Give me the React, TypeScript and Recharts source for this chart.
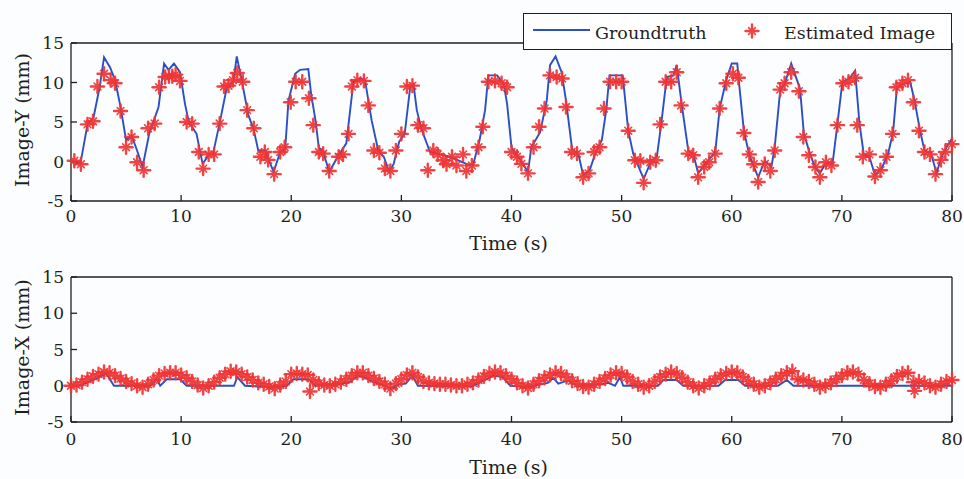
import React from 'react';
import { ComposedChart, Line, Scatter, XAxis, YAxis, Legend } from 'recharts';

// Two stacked panels: Image-Y and Image-X tracking, ground truth vs. estimate.

const FONT = '"DejaVu Serif", serif';
const BLUE = '#2b4fc4';
const RED = '#f03434';
const INK = '#1f1f1f';

const timeTicks = [0, 10, 20, 30, 40, 50, 60, 70, 80];
const valueTicks = [-5, 0, 5, 10, 15];

// [time (s), value (mm)]
const yTruth = [
    [0, 0.1], [0.85, -0.3], [1.5, 4.7], [2.05, 5.6], [2.6, 9.4], [3.0, 13.2], [3.55, 11.9],
    [4.0, 10.3], [4.5, 6.9], [5.0, 2.7], [5.5, 3.3], [6.0, 1.4], [6.5, -0.7], [7.1, 3.5],
    [7.95, 6.9], [8.45, 12.4], [8.85, 11.6], [9.35, 12.4], [9.9, 11.3], [10.35, 7.3],
    [10.7, 5.0], [11.4, 3.5], [11.95, -0.3], [12.5, 0.8], [12.9, 1.0], [13.55, 5.2],
    [14.15, 9.4], [14.75, 10.1], [15.05, 13.3], [15.5, 10.3], [16.1, 5.9], [16.6, 4.0],
    [17.0, 1.4], [17.6, 1.4], [18.4, -1.3], [19.0, 1.2], [19.45, 1.6], [19.75, 7.7],
    [20.35, 11.1], [20.8, 11.6], [21.55, 11.7], [21.8, 8.6], [22.2, 5.2], [22.5, 1.8],
    [22.9, 1.2], [23.45, -1.3], [24.3, 0.8], [25.0, 2.3], [25.65, 10.1], [26.3, 10.5],
    [26.7, 10.3], [27.3, 5.2], [27.9, 1.4], [28.4, 0.6], [28.9, -1.3], [29.3, -0.3],
    [29.8, 2.5], [30.3, 3.5], [30.8, 9.4], [31.1, 9.8], [31.4, 6.5], [31.85, 4.0],
    [32.6, 1.2], [34.4, 0.6], [35.9, -0.3], [36.5, -0.5], [37.1, 2.7], [37.6, 6.5],
    [37.9, 10.9], [38.7, 10.9], [39.3, 9.8], [39.6, 7.3], [40.0, 1.8], [40.6, 0.6],
    [41.5, -1.3], [41.8, 1.8], [42.6, 3.7], [43.2, 7.7], [43.5, 12.2], [44.0, 13.3],
    [44.55, 11.3], [44.95, 7.7], [45.5, 1.6], [46.1, 0.8], [46.5, -1.7], [47.1, -1.1],
    [47.6, 1.0], [48.2, 2.7], [48.6, 6.5], [48.9, 10.9], [50.1, 10.9], [50.6, 3.9],
    [51.05, 1.0], [52.0, -2.2], [52.7, 0.1], [53.2, 0.6], [53.6, 4.8], [54.1, 10.7],
    [54.7, 10.9], [55.0, 12.2], [55.45, 7.3], [56.05, 1.4], [56.5, 1.0], [56.95, -1.5],
    [57.6, -0.3], [58.5, 1.2], [58.9, 6.7], [59.5, 10.3], [60.0, 12.4], [60.5, 12.4],
    [60.7, 9.4], [61.1, 3.9], [61.6, 0.8], [62.4, -2.0], [63.0, 0.1], [63.6, -0.7],
    [63.9, 1.8], [64.4, 9.0], [64.8, 9.8], [65.4, 12.4], [66.2, 9.2], [66.55, 3.5],
    [67.1, 1.0], [67.55, -0.7], [68.0, -1.5], [68.55, -0.2], [69.15, -0.3], [69.6, 4.8],
    [70.05, 10.1], [70.7, 10.5], [71.2, 11.5], [71.6, 4.8], [72.0, 0.8], [72.5, 0.6],
    [73.0, -1.7], [73.6, -0.9], [74.2, 1.0], [74.65, 3.7], [75.0, 9.4], [75.55, 9.8],
    [76.2, 10.1], [76.6, 7.7], [77.1, 3.9], [77.5, 1.4], [78.1, 1.0], [78.6, -1.5],
    [79.0, 0.4], [79.5, 1.8], [80.0, 2.9],
];

const yEstimate = [
    [0.3, 0.1], [0.9, -0.35], [1.5, 4.7], [2.0, 5.1], [2.4, 9.5], [3.0, 11.1], [3.6, 10.3],
    [4.0, 9.9], [4.5, 6.4], [5.0, 1.8], [5.5, 3.1], [6.0, -0.1], [6.6, -1.1], [7.0, 4.2],
    [7.6, 4.8], [8.0, 9.4], [8.55, 10.7], [8.9, 10.8], [9.2, 10.8], [9.5, 11.0], [9.9, 10.2],
    [10.5, 5.0], [11.0, 4.8], [11.6, 1.2], [12.0, -0.9], [12.5, 0.9], [13.0, 0.9], [13.5, 4.8],
    [13.9, 9.5], [14.3, 9.6], [14.7, 10.3], [15.1, 11.2], [15.6, 10.1], [16.0, 6.5],
    [16.6, 4.2], [17.2, 0.6], [17.6, 1.2], [17.9, 0.2], [18.45, -1.6], [19.0, 1.2],
    [19.4, 1.8], [19.95, 7.5], [20.4, 10.1], [21.0, 10.1], [21.6, 8.0], [22.0, 4.6],
    [22.5, 1.2], [22.9, 1.0], [23.45, -1.2], [24.3, 0.6], [24.7, 0.9], [25.2, 3.5],
    [25.5, 9.5], [26.0, 10.3], [26.6, 10.2], [27.0, 7.1], [27.5, 1.4], [28.0, 1.1],
    [28.5, -0.9], [29.0, -1.2], [29.5, 1.4], [30.0, 3.5], [30.5, 9.5], [31.0, 9.6],
    [31.5, 4.6], [32.0, 4.2], [32.4, -1.1], [32.9, 1.4], [33.3, 0.9], [33.8, 0.15],
    [34.1, -0.35], [34.6, 0.6], [35.0, -0.5], [35.6, 0.9], [35.9, -1.2], [36.4, -0.5],
    [37.0, 1.8], [37.4, 4.4], [37.9, 10.1], [38.5, 10.2], [39.1, 9.9], [39.6, 9.4],
    [40.0, 1.2], [40.5, 0.6], [40.9, -0.3], [41.5, -1.5], [42.0, 1.8], [42.5, 4.4],
    [43.0, 6.7], [43.5, 10.9], [44.1, 10.7], [44.6, 10.5], [44.95, 6.9], [45.45, 1.2],
    [45.95, 1.0], [46.5, -2.0], [47.0, -1.5], [47.5, 1.2], [48.0, 1.8], [48.4, 6.7],
    [48.95, 10.1], [49.5, 10.1], [50.0, 10.1], [50.6, 3.9], [51.2, 0.15], [51.7, 0.1],
    [52.0, -2.7], [52.6, -0.1], [53.1, 0.15], [53.5, 4.7], [54.0, 10.1], [54.5, 10.1],
    [55.0, 11.3], [55.4, 7.1], [56.05, 1.0], [56.5, 0.8], [56.95, -2.0], [57.5, -0.7],
    [57.95, -0.1], [58.5, 1.0], [58.9, 6.7], [59.5, 9.9], [60.1, 11.1], [60.6, 10.6],
    [61.1, 3.6], [61.6, 0.9], [62.0, -0.35], [62.4, -2.6], [63.0, -0.3], [63.5, -1.2],
    [63.9, 1.4], [64.4, 9.1], [64.8, 9.9], [65.4, 11.3], [66.1, 8.9], [66.5, 3.1],
    [67.0, 0.8], [67.6, -0.7], [68.0, -2.0], [68.55, -0.1], [69.05, -0.5], [69.6, 4.6],
    [70.1, 9.9], [70.6, 10.1], [71.2, 10.6], [71.4, 4.6], [71.9, 0.6], [72.5, 0.9],
    [73.0, -1.9], [73.5, -1.1], [74.05, 0.6], [74.6, 3.5], [74.95, 9.4], [75.5, 9.9],
    [76.0, 10.3], [76.5, 7.5], [77.0, 3.9], [77.5, 1.2], [78.0, 0.9], [78.5, -1.6],
    [79.0, 0.2], [79.4, 1.2], [80.0, 2.2],
];

const xTruth = [
    [0, 0], [0.8, 0], [2.6, 1.2], [3.2, 1.7], [3.9, 0], [7.2, 0], [7.8, 0.9], [8.1, 0],
    [8.7, 0.9], [9.9, 0.9], [10.5, 0], [14.8, 0], [15.1, 1.2], [15.8, 0], [18.4, -0.2],
    [19.6, 0], [20.2, 0.9], [21.6, 0.9], [22.2, 0], [25.2, 0.4], [26.0, 1.3], [26.6, 1.2],
    [27.3, 0.6], [28.5, 0], [29.1, -0.4], [29.8, 0.2], [30.4, 0.3], [31.0, 1.4], [31.5, 0],
    [36.4, -0.1], [37.3, 0.6], [38.4, 1.4], [39.2, 1.2], [39.9, 0], [41.6, -0.2], [42.6, 0.2],
    [43.3, 0.4], [43.8, 1.1], [44.25, 0.3], [44.85, 0.6], [45.3, 0.6], [45.9, 0], [48.2, 0.2],
    [48.8, 0.4], [49.4, 0], [49.85, 1.2], [50.15, 0], [53.3, 0], [53.8, 0.8], [55.0, 0.8],
    [55.6, 0], [58.8, 0], [59.4, 0.8], [60.6, 0.8], [61.2, 0], [64.2, 0], [65.0, 0.8],
    [65.6, 0], [80, 0],
];

const xEstimate = [
    [0, 0.0], [0.5, 0.1], [1, 0.5], [1.5, 0.9], [2, 1.3], [2.5, 1.6], [3, 1.9], [3.5, 1.8],
    [4, 1.4], [4.5, 1.0], [5, 0.6], [5.5, 0.3], [6, 0.0], [6.5, -0.2], [7, 0.2], [7.5, 0.8],
    [8, 1.4], [8.5, 1.7], [9, 1.8], [9.5, 1.8], [10, 1.5], [10.5, 1.1], [11, 0.6], [11.5, 0.1],
    [12, -0.3], [12.5, 0.0], [13, 0.5], [13.5, 1.1], [14, 1.6], [14.5, 2.0], [15, 1.9],
    [15.5, 1.6], [16, 1.2], [16.5, 0.8], [17, 0.4], [17.5, 0.2], [18, -0.1], [18.5, -0.4],
    [19, 0.1], [19.5, 0.6], [20, 1.6], [20.5, 1.7], [21, 1.6], [21.5, 1.5], [21.7, -0.8],
    [22, 0.8], [22.5, 0.3], [23, 0.1], [23.5, 0.0], [24, 0.2], [24.5, 0.5], [25, 0.9],
    [25.5, 1.4], [26, 1.8], [26.5, 1.8], [27, 1.4], [27.5, 1.0], [28, 0.6], [28.5, 0.2],
    [29, -0.4], [29.5, 0.3], [30, 0.9], [30.5, 1.5], [31, 1.8], [31.5, 1.2], [32, 0.6],
    [32.5, 0.4], [33, 0.3], [33.5, 0.2], [34, 0.2], [34.5, 0.1], [35, 0.0], [35.5, 0.0],
    [36, 0.2], [36.5, 0.4], [37, 0.8], [37.5, 1.3], [38, 1.7], [38.5, 1.9], [39, 1.8],
    [39.5, 1.4], [40, 0.9], [40.5, 0.4], [41, 0.0], [41.5, -0.3], [42, 0.2], [42.5, 0.7],
    [43, 1.1], [43.5, 1.5], [44, 1.8], [44.5, 1.7], [45, 1.2], [45.5, 0.7], [46, 0.3],
    [46.5, -0.1], [47, -0.2], [47.5, 0.2], [48, 0.6], [48.5, 1.0], [49, 1.5], [49.5, 1.8],
    [50, 1.7], [50.5, 1.2], [51, 0.6], [51.5, 0.2], [52, -0.2], [52.5, 0.0], [53, 0.6],
    [53.5, 1.2], [54, 1.6], [54.5, 1.9], [55, 1.7], [55.5, 1.1], [56, 0.5], [56.5, 0.0],
    [57, -0.3], [57.5, 0.0], [58, 0.4], [58.5, 0.9], [59, 1.4], [59.5, 1.7], [60, 1.9],
    [60.5, 1.8], [61, 1.2], [61.5, 0.6], [62, 0.2], [62.5, -0.2], [63, 0.0], [63.5, 0.4],
    [64, 0.9], [64.5, 1.4], [65, 1.8], [65.5, 2.0], [66, 0.9], [66.5, 0.8], [67, 0.6],
    [67.5, 0.2], [68, -0.2], [68.5, 0.0], [69, 0.4], [69.5, 0.9], [70, 1.4], [70.5, 1.8],
    [71, 1.9], [71.5, 1.6], [72, 0.8], [72.5, 0.3], [73, -0.1], [73.5, -0.2], [74, 0.2],
    [74.5, 0.7], [75, 1.3], [75.5, 1.7], [76, 1.8], [76.5, 0.5], [76.6, -0.7], [77, 0.6],
    [77.5, 0.4], [78, 0.0], [78.5, -0.2], [79, 0.2], [79.5, 0.6], [80, 0.8],
];

const toPoints = (rows: number[][]) => rows.map(([t, v]) => ({ t, v }));

// Blurry plus-shaped marker, like the scanned '*' of the original figure.
function Star({ cx, cy }: { cx?: number; cy?: number }) {
    if (cx == null || cy == null) return null;
    const a = 6.5;
    const d = 3.4;
    return (
        <g stroke={RED} strokeLinecap="round" opacity={0.92}>
            <line x1={cx - a} y1={cy} x2={cx + a} y2={cy} strokeWidth={2.4} />
            <line x1={cx} y1={cy - a} x2={cx} y2={cy + a} strokeWidth={2.4} />
            <line x1={cx - d} y1={cy - d} x2={cx + d} y2={cy + d} strokeWidth={1.6} />
            <line x1={cx - d} y1={cy + d} x2={cx + d} y2={cy - d} strokeWidth={1.6} />
            <circle cx={cx} cy={cy} r={2.4} fill={RED} stroke="none" />
        </g>
    );
}

function YLabel({ viewBox, text }: any) {
    const cx = viewBox.x + 22;
    const cy = viewBox.y + viewBox.height / 2 - 2;
    return (
        <text
            x={cx}
            y={cy}
            transform={`rotate(-90 ${cx} ${cy})`}
            textAnchor="middle"
            dominantBaseline="central"
            fill={INK}
            fontSize={19}
            fontFamily={FONT}
        >
            {text}
        </text>
    );
}

function XLabel({ viewBox }: any) {
    return (
        <text
            x={viewBox.x + viewBox.width / 2 - 3}
            y={viewBox.y + viewBox.height - 4}
            textAnchor="middle"
            fill={INK}
            fontSize={19}
            fontFamily={FONT}
        >
            Time (s)
        </text>
    );
}

function LegendBox() {
    return (
        <div
            style={{
                width: 429,
                height: 37,
                boxSizing: 'border-box',
                border: `1.5px solid ${INK}`,
                background: '#ffffff',
            }}
        >
            <svg width={426} height={34} style={{ display: 'block' }}>
                <line x1={9} x2={66} y1={16} y2={16} stroke={BLUE} strokeWidth={2} />
                <text x={71} y={25} fill={INK} fontSize={17.5} fontFamily={FONT}>
                    Groundtruth
                </text>
                <Star cx={228} cy={17} />
                <text x={260} y={25} fill={INK} fontSize={17.5} fontFamily={FONT}>
                    Estimated Image
                </text>
            </svg>
        </div>
    );
}

interface PanelProps {
    truth: number[][];
    estimate: number[][];
    yLabel: string;
    height: number;
    marginTop: number;
    xAxisHeight: number;
    tickGap: number;
    showLegend?: boolean;
}

const tickStyle = { fill: INK, fontSize: 17, fontFamily: FONT };
const lineStyle = { stroke: INK, strokeWidth: 1.3 };

function Panel({ truth, estimate, yLabel, height, marginTop, xAxisHeight, tickGap, showLegend }: PanelProps) {
    return (
        <ComposedChart
            width={964}
            height={height}
            margin={{ top: marginTop, right: 11, bottom: 1, left: 0 }}
        >
            <XAxis
                dataKey="t"
                type="number"
                domain={[0, 80]}
                ticks={timeTicks}
                interval={0}
                height={xAxisHeight}
                tick={tickStyle}
                tickSize={-6}
                tickMargin={tickGap}
                axisLine={lineStyle}
                tickLine={lineStyle}
                label={<XLabel />}
            />
            <XAxis
                xAxisId="top"
                orientation="top"
                type="number"
                domain={[0, 80]}
                ticks={timeTicks}
                interval={0}
                height={1}
                tick={false}
                tickSize={-6}
                axisLine={lineStyle}
                tickLine={lineStyle}
            />
            <YAxis
                type="number"
                domain={[-5, 15]}
                ticks={valueTicks}
                interval={0}
                width={71}
                tick={tickStyle}
                tickSize={-6}
                tickMargin={13}
                axisLine={lineStyle}
                tickLine={lineStyle}
                label={<YLabel text={yLabel} />}
            />
            <YAxis
                yAxisId="right"
                orientation="right"
                type="number"
                domain={[-5, 15]}
                ticks={valueTicks}
                interval={0}
                width={1}
                tick={false}
                tickSize={-6}
                axisLine={lineStyle}
                tickLine={lineStyle}
            />
            {showLegend && (
                <Legend
                    layout="vertical"
                    align="center"
                    verticalAlign="middle"
                    wrapperStyle={{ left: 523, top: 13, width: 429, height: 37 }}
                    content={() => <LegendBox />}
                />
            )}
            <Line
                data={toPoints(truth)}
                dataKey="v"
                type="linear"
                stroke={BLUE}
                strokeWidth={1.9}
                dot={false}
                activeDot={false}
                isAnimationActive={false}
                name="Groundtruth"
            />
            <Scatter
                data={toPoints(estimate)}
                dataKey="v"
                shape={(p: any) => <Star cx={p.cx} cy={p.cy} />}
                isAnimationActive={false}
                name="Estimated Image"
            />
        </ComposedChart>
    );
}

export default function App() {
    return (
        <div
            style={{
                position: 'absolute',
                left: 0,
                top: 0,
                width: 964,
                height: 479,
                background: '#fcfdfe',
                overflow: 'hidden',
            }}
        >
            <div style={{ position: 'absolute', left: 0, top: 0 }}>
                <Panel
                    truth={yTruth}
                    estimate={yEstimate}
                    yLabel="Image-Y (mm)"
                    height={255}
                    marginTop={42}
                    xAxisHeight={53}
                    tickGap={15}
                    showLegend
                />
            </div>
            <div style={{ position: 'absolute', left: 0, top: 250 }}>
                <Panel
                    truth={xTruth}
                    estimate={xEstimate}
                    yLabel="Image-X (mm)"
                    height={229}
                    marginTop={26}
                    xAxisHeight={56}
                    tickGap={17}
                />
            </div>
        </div>
    );
}
